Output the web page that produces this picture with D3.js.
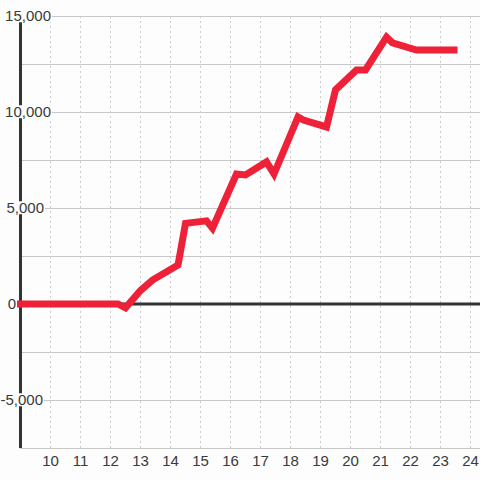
<!DOCTYPE html>
<html><head><meta charset="utf-8">
<script src="https://cdn.jsdelivr.net/npm/d3@7"></script>
<style>
html,body{margin:0;padding:0;background:#fcfdfc;}
svg{display:block;font-family:"Liberation Sans",Arial,sans-serif;}
</style></head>
<body>
<svg id="chart" width="480" height="480"></svg>
<script>
const xValues = [9, 12.25, 12.5, 13.0, 13.4, 14.25, 14.5, 15.2, 15.4, 16.2, 16.5, 17.2, 17.45, 18.25, 18.43, 19.2, 19.5, 20.2, 20.5, 21.2, 21.4, 22.2, 23.45];
const yValues = [0, 0, -200, 700, 1250, 2030, 4200, 4330, 3950, 6770, 6720, 7400, 6770, 9740, 9580, 9220, 11150, 12190, 12190, 13900, 13600, 13230, 13230];
const xTicks = [10, 11, 12, 13, 14, 15, 16, 17, 18, 19, 20, 21, 22, 23, 24];
const yGrid = [-7500, -5000, -2500, 0, 2500, 5000, 7500, 10000, 12500, 15000];
const yTickValues = [-5000, 0, 5000, 10000, 15000];

const svg = d3.select("#chart");
const x = d3.scaleLinear().domain([9, 24.333]).range([20.5, 480.5]);
const y = d3.scaleLinear().domain([-7500, 15000]).range([448, 16]);
const bg = "#fcfdfc";

svg.append("rect").attr("width", 480).attr("height", 480).attr("fill", bg);

// vertical dashed grid
svg.append("g").selectAll("line").data(xTicks).join("line")
  .attr("x1", d => Math.floor(x(d)) + 0.5).attr("x2", d => Math.floor(x(d)) + 0.5)
  .attr("y1", y(15000)).attr("y2", y(-7500))
  .attr("stroke", "#cccccc").attr("stroke-width", 1).attr("stroke-dasharray", "2,3");

// horizontal grid
svg.append("g").selectAll("line").data(yGrid).join("line")
  .attr("x1", 20).attr("x2", 480)
  .attr("y1", d => Math.round(y(d)) + 0.5).attr("y2", d => Math.round(y(d)) + 0.5)
  .attr("stroke", "#c8c8c8").attr("stroke-width", 1);

// left axis line
svg.append("line").attr("x1", 20.5).attr("x2", 20.5).attr("y1", y(15000)).attr("y2", y(-7500))
  .attr("stroke", "#333").attr("stroke-width", 3);

// zero line
svg.append("line").attr("x1", 20).attr("x2", 480).attr("y1", y(0)).attr("y2", y(0))
  .attr("stroke", "#333").attr("stroke-width", 3);

// y labels with background boxes
const fmt = d3.format(",");
const yLabelRight = v => v === 0 ? 16 : (v < 0 ? 43 : (v === 5000 ? 44 : 51));
svg.append("g").selectAll("g").data(yTickValues).join("g").each(function(v) {
  const g = d3.select(this);
  const t = g.append("text").attr("x", yLabelRight(v)).attr("y", y(v)).attr("dy", "0.35em")
    .attr("text-anchor", "end").attr("font-size", 15).attr("fill", "#3a3a3a")
    .text(fmt(v).replace("−", "-"));
  const b = t.node().getBBox();
  if (v !== 0) {
    g.insert("rect", "text").attr("x", b.x - 1).attr("y", b.y + 2).attr("width", b.width + 2)
      .attr("height", b.height - 4).attr("fill", bg);
  }
});

// x labels
svg.append("g").selectAll("text").data(xTicks).join("text")
  .attr("x", d => x(d)).attr("y", 466).attr("text-anchor", "middle")
  .attr("font-size", 15).attr("fill", "#3a3a3a").text(d => d);

// line
const line = d3.line().x((d, i) => x(xValues[i])).y(d => y(d));
svg.append("path").datum(yValues).attr("d", line)
  .attr("fill", "none").attr("stroke", "#ee2139").attr("stroke-width", 7)
  .attr("stroke-linejoin", "miter").attr("stroke-linecap", "square");
</script>
</body></html>
